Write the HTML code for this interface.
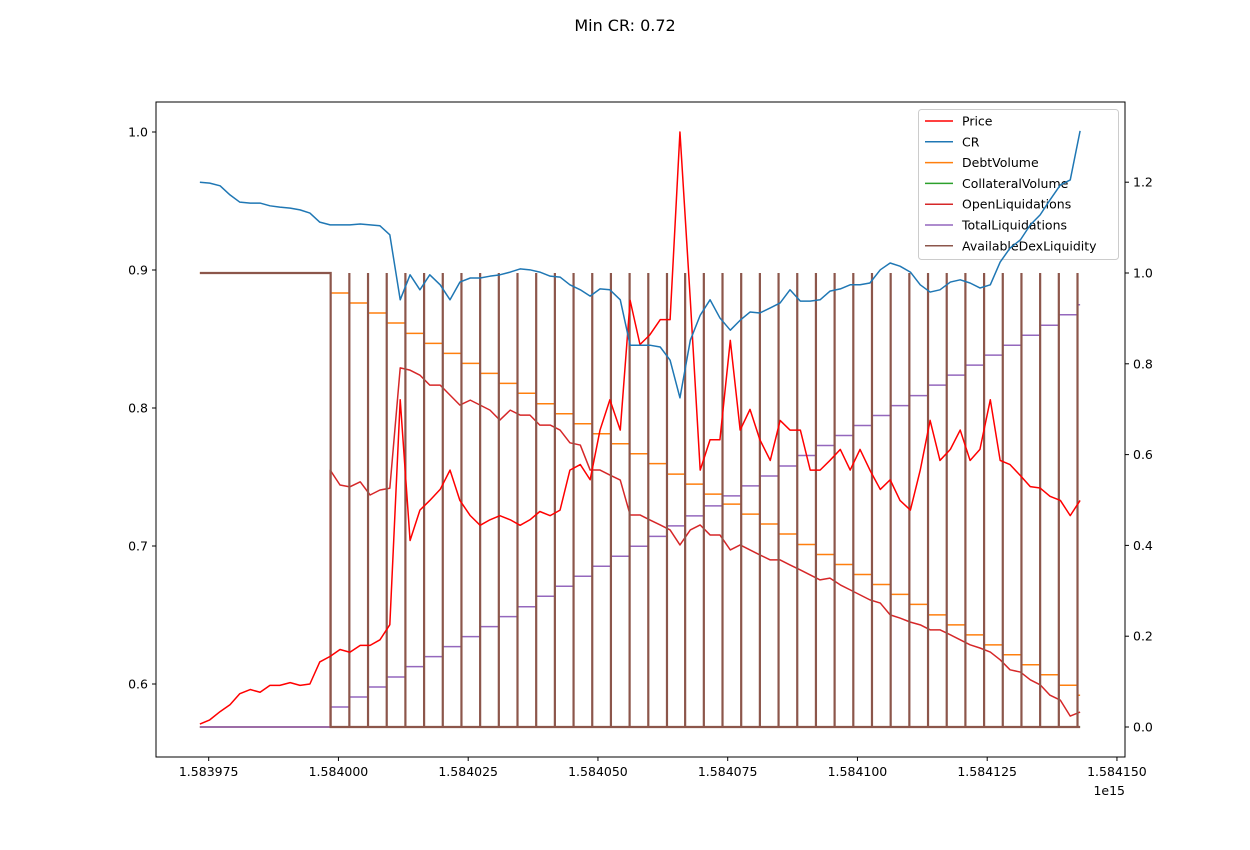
<!DOCTYPE html>
<html><head><meta charset="utf-8">
<style>
html,body{margin:0;padding:0;background:#fff;}
svg{display:block;font-family:"DejaVu Sans","Liberation Sans",sans-serif;}
</style></head>
<body>
<svg id="chart" width="1250" height="850" viewBox="0 0 1250 850" xmlns="http://www.w3.org/2000/svg">
<text x="625" y="31" text-anchor="middle" font-size="16">Min CR: 0.72</text>
<g id="plot"></g>
</svg>
<script>
const times = [73.3,75.2,77.2,79.1,81.0,83.0,84.9,86.8,88.7,90.7,92.6,94.5,96.4,98.4,100.3,102.2,104.2,106.1,108.0,109.9,111.9,113.8,115.7,117.6,119.6,121.5,123.4,125.4,127.3,129.2,131.1,133.1,135.0,136.9,138.8,140.8,142.7,144.6,146.6,148.5,150.4,152.3,154.3,156.2,158.1,160.0,162.0,163.9,165.8,167.8,169.7,171.6,173.5,175.5,177.4,179.3,181.2,183.2,185.1,187.0,189.0,190.9,192.8,194.7,196.7,198.6,200.5,202.4,204.4,206.3,208.2,210.2,212.1,214.0,215.9,217.9,219.8,221.7,223.6,225.6,227.5,229.4,231.4,233.3,235.2,237.1,239.1,241.0,242.9];
const priceValues = [0.571,0.574,0.580,0.585,0.593,0.596,0.594,0.599,0.599,0.601,0.599,0.600,0.616,0.620,0.625,0.623,0.628,0.628,0.632,0.643,0.806,0.704,0.726,0.733,0.741,0.755,0.733,0.722,0.715,0.719,0.722,0.719,0.715,0.719,0.725,0.722,0.726,0.755,0.759,0.748,0.784,0.806,0.784,0.878,0.846,0.853,0.864,0.864,1.000,0.878,0.755,0.777,0.777,0.849,0.784,0.799,0.777,0.762,0.791,0.784,0.784,0.755,0.755,0.762,0.770,0.755,0.770,0.755,0.741,0.748,0.733,0.726,0.755,0.791,0.762,0.770,0.784,0.762,0.770,0.806,0.762,0.759,0.751,0.743,0.742,0.736,0.733,0.722,0.733];
const crValues = [1.200,1.198,1.192,1.172,1.156,1.154,1.154,1.148,1.145,1.143,1.139,1.132,1.112,1.106,1.106,1.106,1.108,1.106,1.104,1.084,0.941,0.996,0.963,0.996,0.974,0.941,0.980,0.989,0.989,0.993,0.996,1.002,1.009,1.007,1.002,0.993,0.991,0.974,0.963,0.949,0.965,0.963,0.941,0.841,0.841,0.841,0.837,0.808,0.725,0.852,0.907,0.941,0.901,0.874,0.896,0.914,0.912,0.923,0.934,0.963,0.938,0.938,0.941,0.960,0.965,0.974,0.974,0.978,1.007,1.022,1.015,1.002,0.974,0.958,0.963,0.980,0.985,0.978,0.967,0.974,1.024,1.055,1.073,1.106,1.128,1.161,1.194,1.205,1.313];
const openLiqValues = [0,0,0,0,0,0,0,0,0,0,0,0,0,0.566,0.533,0.529,0.540,0.511,0.522,0.526,0.791,0.786,0.775,0.753,0.753,0.731,0.709,0.720,0.709,0.698,0.676,0.698,0.687,0.687,0.665,0.665,0.654,0.626,0.621,0.566,0.566,0.555,0.544,0.467,0.467,0.456,0.445,0.434,0.401,0.434,0.445,0.423,0.423,0.390,0.401,0.390,0.379,0.368,0.368,0.357,0.346,0.335,0.324,0.328,0.313,0.302,0.291,0.280,0.273,0.247,0.240,0.231,0.225,0.214,0.214,0.203,0.192,0.181,0.174,0.165,0.148,0.126,0.121,0.104,0.093,0.070,0.059,0.024,0.033];
const liqTimes = [98.5,102.1,105.7,109.3,112.9,116.5,120.1,123.7,127.3,130.9,134.5,138.1,141.7,145.3,148.9,152.5,156.1,159.7,163.3,166.8,170.4,174.0,177.6,181.2,184.8,188.4,192.0,195.6,199.2,202.8,206.4,210.0,213.6,217.2,220.8,224.4,228.0,231.6,235.2,238.8,242.4];
const debtValues = [0.956,0.934,0.912,0.890,0.867,0.845,0.823,0.801,0.779,0.757,0.735,0.712,0.690,0.668,0.646,0.624,0.602,0.580,0.557,0.535,0.513,0.491,0.469,0.447,0.425,0.402,0.380,0.358,0.336,0.314,0.292,0.270,0.247,0.225,0.203,0.181,0.159,0.137,0.115,0.092,0.070];
const totalLiqValues = [0.044,0.066,0.088,0.110,0.133,0.155,0.177,0.199,0.221,0.243,0.265,0.288,0.310,0.332,0.354,0.376,0.398,0.420,0.443,0.465,0.487,0.509,0.531,0.553,0.575,0.598,0.620,0.642,0.664,0.686,0.708,0.730,0.753,0.775,0.797,0.819,0.841,0.863,0.885,0.908,0.930];
const xTicks = [75,100,125,150,175,200,225,250];
const xTickLabels = ["1.583975","1.584000","1.584025","1.584050","1.584075","1.584100","1.584125","1.584150"];
const leftTicks = [0.6,0.7,0.8,0.9,1.0];
const leftTickLabels = ["0.6","0.7","0.8","0.9","1.0"];
const rightTicks = [0.0,0.2,0.4,0.6,0.8,1.0,1.2];
const rightTickLabels = ["0.0","0.2","0.4","0.6","0.8","1.0","1.2"];
const legendLabels = ["Price","CR","DebtVolume","CollateralVolume","OpenLiquidations","TotalLiquidations","AvailableDexLiquidity"];
const legendColors = ["#ff0000","#1f77b4","#ff7f0e","#2ca02c","#d62728","#9467bd","#8c564b"];

const NS="http://www.w3.org/2000/svg";
const L=156,R=1125,T=102,B=757;
const xs=u=>208.7+(u-75)*5.19;
const yl=v=>132+(1.0-v)*1380;
const yr=v=>727-v*454;
const g=document.getElementById('plot');
function mk(tag,attrs,parent){const e=document.createElementNS(NS,tag);for(const k in attrs)e.setAttribute(k,attrs[k]);(parent||g).appendChild(e);return e;}
function pathFrom(pts){return pts.map((p,i)=>(i?'L':'M')+p[0].toFixed(2)+' '+p[1].toFixed(2)).join(' ');}

const tEnd=times[times.length-1], tStart=times[0];
function stepPts(initial,vals){const pts=[[xs(tStart),yr(initial)]];liqTimes.forEach((t,i)=>{const prev=i?vals[i-1]:initial;pts.push([xs(t),yr(prev)]);pts.push([xs(t),yr(vals[i])]);});pts.push([xs(tEnd),yr(vals[vals.length-1])]);return pts;}
let p;
p=mk('path',{d:pathFrom(stepPts(1.0,debtValues)),fill:'none',stroke:legendColors[2],'stroke-width':1.5});


p=mk('path',{d:pathFrom([[xs(tStart),yr(0)],[xs(tEnd),yr(0)]]),fill:'none',stroke:legendColors[3],'stroke-width':1.5});


{const pts=[];
 times.forEach((t,i)=>{
   if(i>0&&openLiqValues[i-1]===0&&openLiqValues[i]>0){pts.push([xs(t),yr(0)]);}
   pts.push([xs(t),yr(openLiqValues[i])]);
 });
 p=mk('path',{d:pathFrom(pts),fill:'none',stroke:legendColors[4],'stroke-width':1.5,'stroke-linejoin':'round'});
 
 }
p=mk('path',{d:pathFrom(stepPts(0,totalLiqValues)),fill:'none',stroke:legendColors[5],'stroke-width':1.5});


{const pts=[[xs(tStart),yr(1)],[xs(liqTimes[0]),yr(1)],[xs(liqTimes[0]),yr(0)]];
 liqTimes.slice(1).forEach(t=>{pts.push([xs(t),yr(0)]);pts.push([xs(t),yr(1)]);pts.push([xs(t),yr(0)]);});
 pts.push([xs(tEnd),yr(0)]);
 p=mk('path',{d:pathFrom(pts),fill:'none',stroke:legendColors[6],'stroke-width':2.2});
 
 }
p=mk('path',{d:pathFrom(times.map((t,i)=>[xs(t),yl(priceValues[i])])),fill:'none',stroke:legendColors[0],'stroke-width':1.5,'stroke-linejoin':'round'});


const lg=mk('g',{});


let box=mk('rect',{x:918.5,y:109.5,width:200,height:150,rx:3,fill:'#fff','fill-opacity':0.8,stroke:'#ccc'},lg);


legendLabels.forEach((s,i)=>{const y=121+i*20.8;
 let l=mk('line',{x1:925,x2:953,y1:y,y2:y,stroke:legendColors[i],'stroke-width':1.5},lg);
 
 
 let t=mk('text',{x:962,y:y+4.5,'font-size':12.5},lg);t.textContent=s;
 
 });
p=mk('path',{d:pathFrom(times.map((t,i)=>[xs(t),yr(crValues[i])])),fill:'none',stroke:legendColors[1],'stroke-width':1.5,'stroke-linejoin':'round'});


let fr=mk('rect',{x:L,y:T,width:R-L,height:B-T,fill:'none',stroke:'#000','stroke-width':1});


xTicks.forEach((u,i)=>{const x=xs(u);
 let l=mk('line',{x1:x,x2:x,y1:B,y2:B+4,stroke:'#000'});
 
 
 let t=mk('text',{x:x,y:B+19,'text-anchor':'middle','font-size':12.5});t.textContent=xTickLabels[i];
 
 });
let off=mk('text',{x:R,y:795,'text-anchor':'end','font-size':12.5});off.textContent='1e15';


leftTicks.forEach((v,i)=>{const y=yl(v);
 let l=mk('line',{x1:L-4,x2:L,y1:y,y2:y,stroke:'#000'});
 
 
 let t=mk('text',{x:L-8,y:y+4.5,'text-anchor':'end','font-size':12.5});t.textContent=leftTickLabels[i];
 
 });
rightTicks.forEach((v,i)=>{const y=yr(v);
 let l=mk('line',{x1:R,x2:R+4,y1:y,y2:y,stroke:'#000'});
 
 
 let t=mk('text',{x:R+8,y:y+4.5,'text-anchor':'start','font-size':12.5});t.textContent=rightTickLabels[i];
 
 });
</script>
</body></html>
